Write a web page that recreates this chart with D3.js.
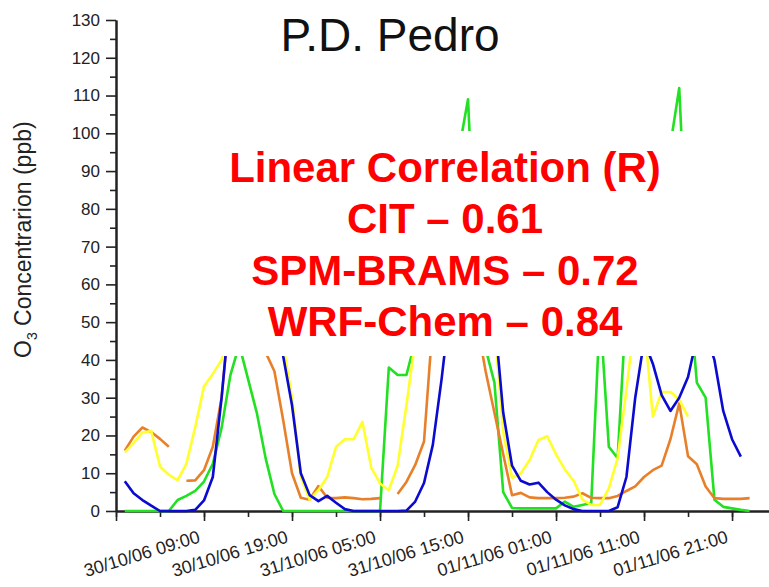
<!DOCTYPE html>
<html lang="en">
<head>
    <meta charset="utf-8">
    <title>P.D. Pedro</title>
    <script src="https://d3js.org/d3.v7.min.js"></script>
    <style>
        body { margin: 0; background: #fff; }
        svg { display: block; font-family: "Liberation Sans", Arial, sans-serif; }
        .axis path, .axis line { stroke: #222; }
        .series { fill: none; stroke-width: 2.6; stroke-linejoin: round; }
    </style>
</head>
<body>
    <svg id="chart" width="769" height="587"></svg>
    <script>
        // Hourly O3 values (ppb), 30/10/06 00:00 -> 01/11/06 23:00, null = no data
        const firstHour = "30/10/06 00:00";

        const blueValues = [7.9, 4.7, 2.9, 1.4, 0, 0, 0, 0, 0.3, 2.8, 9, 30,
            55, 76, 88, 90, 80, 58, 41, 28, 10, 4.2, 2.6, 4.0,
            2.2, 0.5, 0, 0, 0, 0, 0, 0, 0.1, 2.5, 7.4, 17.5,
            35, 55, 70, 76, 72, 62, 52, 26, 12, 8, 7, 7.5,
            5, 3, 1.5, 0.5, 0, 0, 0, 0, 1, 9, 30, 45,
            39, 30.7, 26.5, 30, 35.5, 46, 47, 40, 26.5, 19, 14.4, null];

        const greenValues = [0, 0, 0, 0, 0, 0, 2.9, 4, 5.3, 7.8, 12.5, 22,
            36, 44, 35, 26, 14, 4.5, 0, 0, 0, 0, 0, 0,
            0, 0, 0, 0, 0, 0, 38, 36, 36, 45, 55, 65,
            75, 86, 96, 109, 58, 43, 34, 5, 0.8, 0.7, 0.7, 0.7,
            0.7, 0.7, 2.5, 1.1, 1.6, 2.1, 53, 17, 14, 55, 65, 74,
            82, 90, 97, 112, 62, 34, 30, 3, 1.1, 0.7, 0.3, 0];

        const yellowValues = [15.5, 18, 20.8, 21.2, 11.8, 9.6, 8.2, 12.5, 22.2, 33, 36.3, 40,
            50, 60, 66, 64, 58, 50, 44, 30, 9, 3, 5.5, 9,
            17, 19, 19, 23.6, 11.5, 7.3, 5.5, 12, 28, 45, 55, 62,
            68, 72, 70, 65, 60, 55, 49, 21, 8.8, 10, 13.5, 18.8,
            19.8, 15, 11, 8, 3, 1.6, 1.6, 6, 14, 32, 52, 50,
            25, 31.5, 31.5, 29.5, 25, null, null, null, null, null, null, null];

        const orangeValues = [16, 19.7, 22.1, 20.9, 19.1, 17, null, 8, 8.1, 10.8, 17, 30,
            55, 62, 63, 55, 42, 37, 24, 10, 3.5, 3, 6.6, 3.5,
            3.4, 3.6, 3.4, 3.1, 3.2, 3.4, null, 4.5, 7.7, 12.2, 18.4, 50,
            62, 70, 72, 65, 50, 37, 26, 15, 4.2, 4.8, 3.6, 3.4,
            3.4, 3.4, 3.5, 3.8, 4.7, 3.5, 3.4, 3.4, 4, 5.3, 6.5, 9,
            10.8, 12, 19, 28.5, 14.5, 12.4, 6.5, 3.4, 3.2, 3.2, 3.2, 3.4];

        const yTicks = [0, 10, 20, 30, 40, 50, 60, 70, 80, 90, 100, 110, 120, 130];
        const xTickLabels = ["30/10/06 09:00", "30/10/06 19:00", "31/10/06 05:00",
            "31/10/06 15:00", "01/11/06 01:00", "01/11/06 11:00", "01/11/06 21:00"];
        const axisStart = "29/10/06 23:00";
        const axisEnd = "02/11/06 01:12";

        const noteLines = ["Linear Correlation (R)", "CIT \u2013 0.61",
            "SPM-BRAMS \u2013 0.72", "WRF-Chem \u2013 0.84"];

        const parseTime = d3.utcParse("%d/%m/%y %H:%M");
        const t0 = parseTime(firstHour).getTime();
        const times = blueValues.map((d, i) => new Date(t0 + i * 3600e3));

        const svg = d3.select("#chart");

        const x = d3.scaleUtc()
            .domain([parseTime(axisStart), parseTime(axisEnd)])
            .range([116, 769]);
        const y = d3.scaleLinear().domain([0, 130]).range([511, 20]);

        // minor ticks every 5 h, major every 10 h
        const minorTicks = d3.range(0, 75, 5).map(h => new Date(x.domain()[0].getTime() + h * 3600e3));
        const majorTicks = minorTicks.filter((d, i) => i % 2 === 0);

        const gx = svg.append("g").attr("class", "axis")
            .attr("transform", `translate(0,${y(0)})`);
        gx.call(d3.axisBottom(x).tickValues(minorTicks).tickSize(6).tickSizeOuter(0).tickFormat(""));
        gx.call(g => g.append("g").call(d3.axisBottom(x).tickValues(majorTicks).tickSize(10).tickSizeOuter(0).tickFormat("")));
        gx.selectAll("path").attr("stroke-width", 2);
        gx.selectAll("line").attr("stroke-width", 1.6);

        // rotated date labels in their own group
        svg.append("g")
            .selectAll("text")
            .data(xTickLabels)
            .join("text")
            .attr("transform", d => "translate(" + (x(parseTime(d)) - 3) + "," + (y(0) + 31) + ") rotate(-17)")
            .attr("text-anchor", "end")
            .style("font-size", "18px")
            .style("fill", "#222")
            .text(d => d);

        const gy = svg.append("g").attr("class", "axis")
            .attr("transform", `translate(${x.range()[0]},0)`);
        gy.call(d3.axisLeft(y).tickValues(d3.range(5, 130, 10)).tickSize(6).tickSizeOuter(0).tickFormat(""));
        gy.call(g => g.append("g").call(d3.axisLeft(y).tickValues(yTicks).tickSize(10).tickSizeOuter(0)));
        gy.selectAll("path").attr("stroke-width", 2);
        gy.selectAll("line").attr("stroke-width", 1.6);
        gy.selectAll("text")
            .attr("font-size", 17)
            .attr("fill", "#222")
            .attr("x", -16)
            .attr("font-family", "Liberation Sans, Arial, sans-serif");

        // y axis title
        const yTitle = svg.append("text")
            .attr("transform", "translate(31,358) rotate(-90)")
            .attr("font-size", 23)
            .attr("fill", "#222");
        yTitle.append("tspan").text("O");
        yTitle.append("tspan").attr("font-size", 14).attr("dy", 6).text("3");
        yTitle.append("tspan").attr("dy", -6).text(" Concentrarion (ppb)");

        // series
        const line = d3.line()
            .defined(d => d.v != null)
            .x(d => x(d.t))
            .y(d => y(d.v));

        const seriesList = [
            { name: "green", color: "#22e022", values: greenValues },
            { name: "orange", color: "#e8802a", values: orangeValues },
            { name: "yellow", color: "#ffff2e", values: yellowValues },
            { name: "blue", color: "#0a0ad0", values: blueValues }
        ];

        seriesList.forEach(s => {
            svg.append("path")
                .datum(s.values.map((v, i) => ({ t: times[i], v: v })))
                .attr("class", "series")
                .attr("stroke", s.color)
                .attr("d", line);
        });

        // white box with the correlation note, hiding the middle of the plot
        svg.append("rect")
            .attr("x", x.range()[0] + 2)
            .attr("y", 131)
            .attr("width", x.range()[1] - x.range()[0] - 2)
            .attr("height", 225)
            .attr("fill", "#fff");

        svg.selectAll(".note")
            .data(noteLines)
            .join("text")
            .attr("class", "note")
            .attr("x", 445)
            .attr("y", (d, i) => 182 + i * 51.3)
            .attr("text-anchor", "middle")
            .attr("font-size", 42)
            .attr("font-weight", "bold")
            .attr("fill", "#ff0000")
            .text(d => d);

        svg.append("text")
            .attr("x", 390)
            .attr("y", 51)
            .attr("text-anchor", "middle")
            .attr("font-size", 46)
            .attr("fill", "#111")
            .text("P.D. Pedro");
    </script>
</body>
</html>
